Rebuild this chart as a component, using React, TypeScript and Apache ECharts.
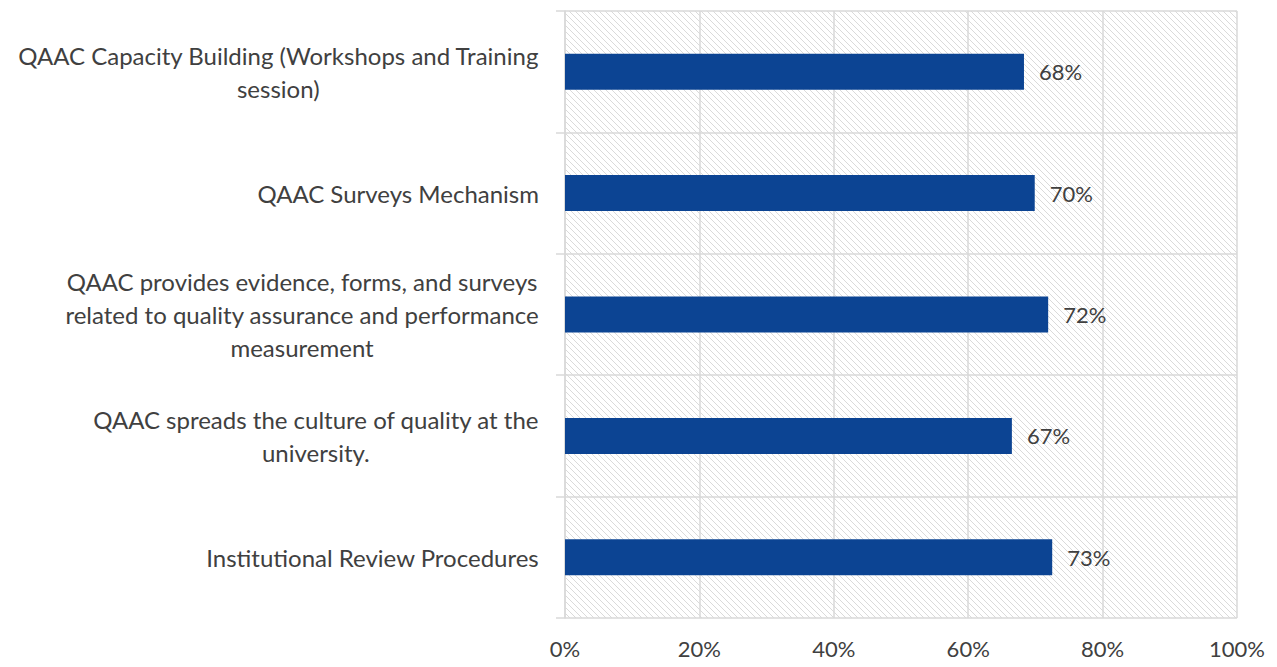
import React, { useEffect, useRef } from "react";
import * as echarts from "echarts";

const categories: string[][] = [
  ["QAAC Capacity Building (Workshops and Training", "session)"],
  ["QAAC Surveys Mechanism"],
  ["QAAC provides evidence, forms, and surveys", "related to quality assurance and performance", "measurement"],
  ["QAAC spreads the culture of quality at the", "university."],
  ["Institutional Review Procedures"],
];
const values: number[] = [68.3, 69.9, 71.9, 66.5, 72.5];
const xTicks: number[] = [0, 20, 40, 60, 80, 100];

const FONT = "Lato";
const TEXT = "#404040";
const GRID = "#d9d9d9";

function hatchPattern() {
  const svg =
    "<svg xmlns='http://www.w3.org/2000/svg' width='6' height='6'>" +
    "<path d='M-1,-1 L7,7 M-1,5 L1,7 M5,-1 L7,1' stroke='#dadada' stroke-width='1' fill='none'/></svg>";
  return {
    image: "data:image/svg+xml;charset=utf-8," + encodeURIComponent(svg),
    repeat: "repeat",
    imageWidth: 6,
    imageHeight: 6,
  } as any;
}

export default function App() {
  const ref = useRef<HTMLDivElement>(null);
  useEffect(() => {
    document.body.style.margin = "0";
    const chart = echarts.init(ref.current!, undefined, { renderer: "svg" });
    const labels = categories.map((c) => c.join("\n"));
    chart.setOption({
      animation: false,
      backgroundColor: "#ffffff",
      grid: {
        left: 565,
        right: 40,
        top: 11,
        bottom: 49,
        show: true,
        backgroundColor: hatchPattern(),
        borderWidth: 0,
      },
      xAxis: {
        type: "value",
        min: 0,
        max: 100,
        interval: 20,
        axisLine: { show: false },
        axisTick: { show: false },
        splitLine: { show: true, lineStyle: { color: GRID, width: 1.5 } },
        axisLabel: {
          margin: 19,
          fontFamily: FONT,
          fontSize: 22,
          color: TEXT,
          formatter: (v: number) => (xTicks.includes(v) ? v + "%" : ""),
        },
      },
      yAxis: {
        type: "category",
        inverse: true,
        data: labels,
        axisLine: { show: true, lineStyle: { color: GRID, width: 1.5 } },
        axisTick: { show: true, length: 9, lineStyle: { color: GRID, width: 1.5 } },
        splitLine: { show: true, lineStyle: { color: GRID, width: 1.5 } },
        axisLabel: {
          margin: 26,
          fontFamily: FONT,
          fontSize: 24,
          color: TEXT,
          lineHeight: 33,
          formatter: (v: string) =>
            v
              .split("\n")
              .map((l) => "{c|" + l + "}")
              .join("\n"),
          rich: {
            c: { align: "center", fontFamily: FONT, fontSize: 24, color: TEXT, lineHeight: 33 },
          },
        },
      },
      series: [
        {
          type: "bar",
          data: values,
          barWidth: 36,
          itemStyle: { color: "#0c4493" },
          label: {
            show: true,
            position: "right",
            distance: 15,
            fontFamily: FONT,
            fontSize: 22,
            color: TEXT,
            formatter: (p: any) => Math.round(p.value) + "%",
          },
        },
      ],
    });
    return () => chart.dispose();
  }, []);
  return <div ref={ref} style={{ width: 1277, height: 667 }} />;
}
